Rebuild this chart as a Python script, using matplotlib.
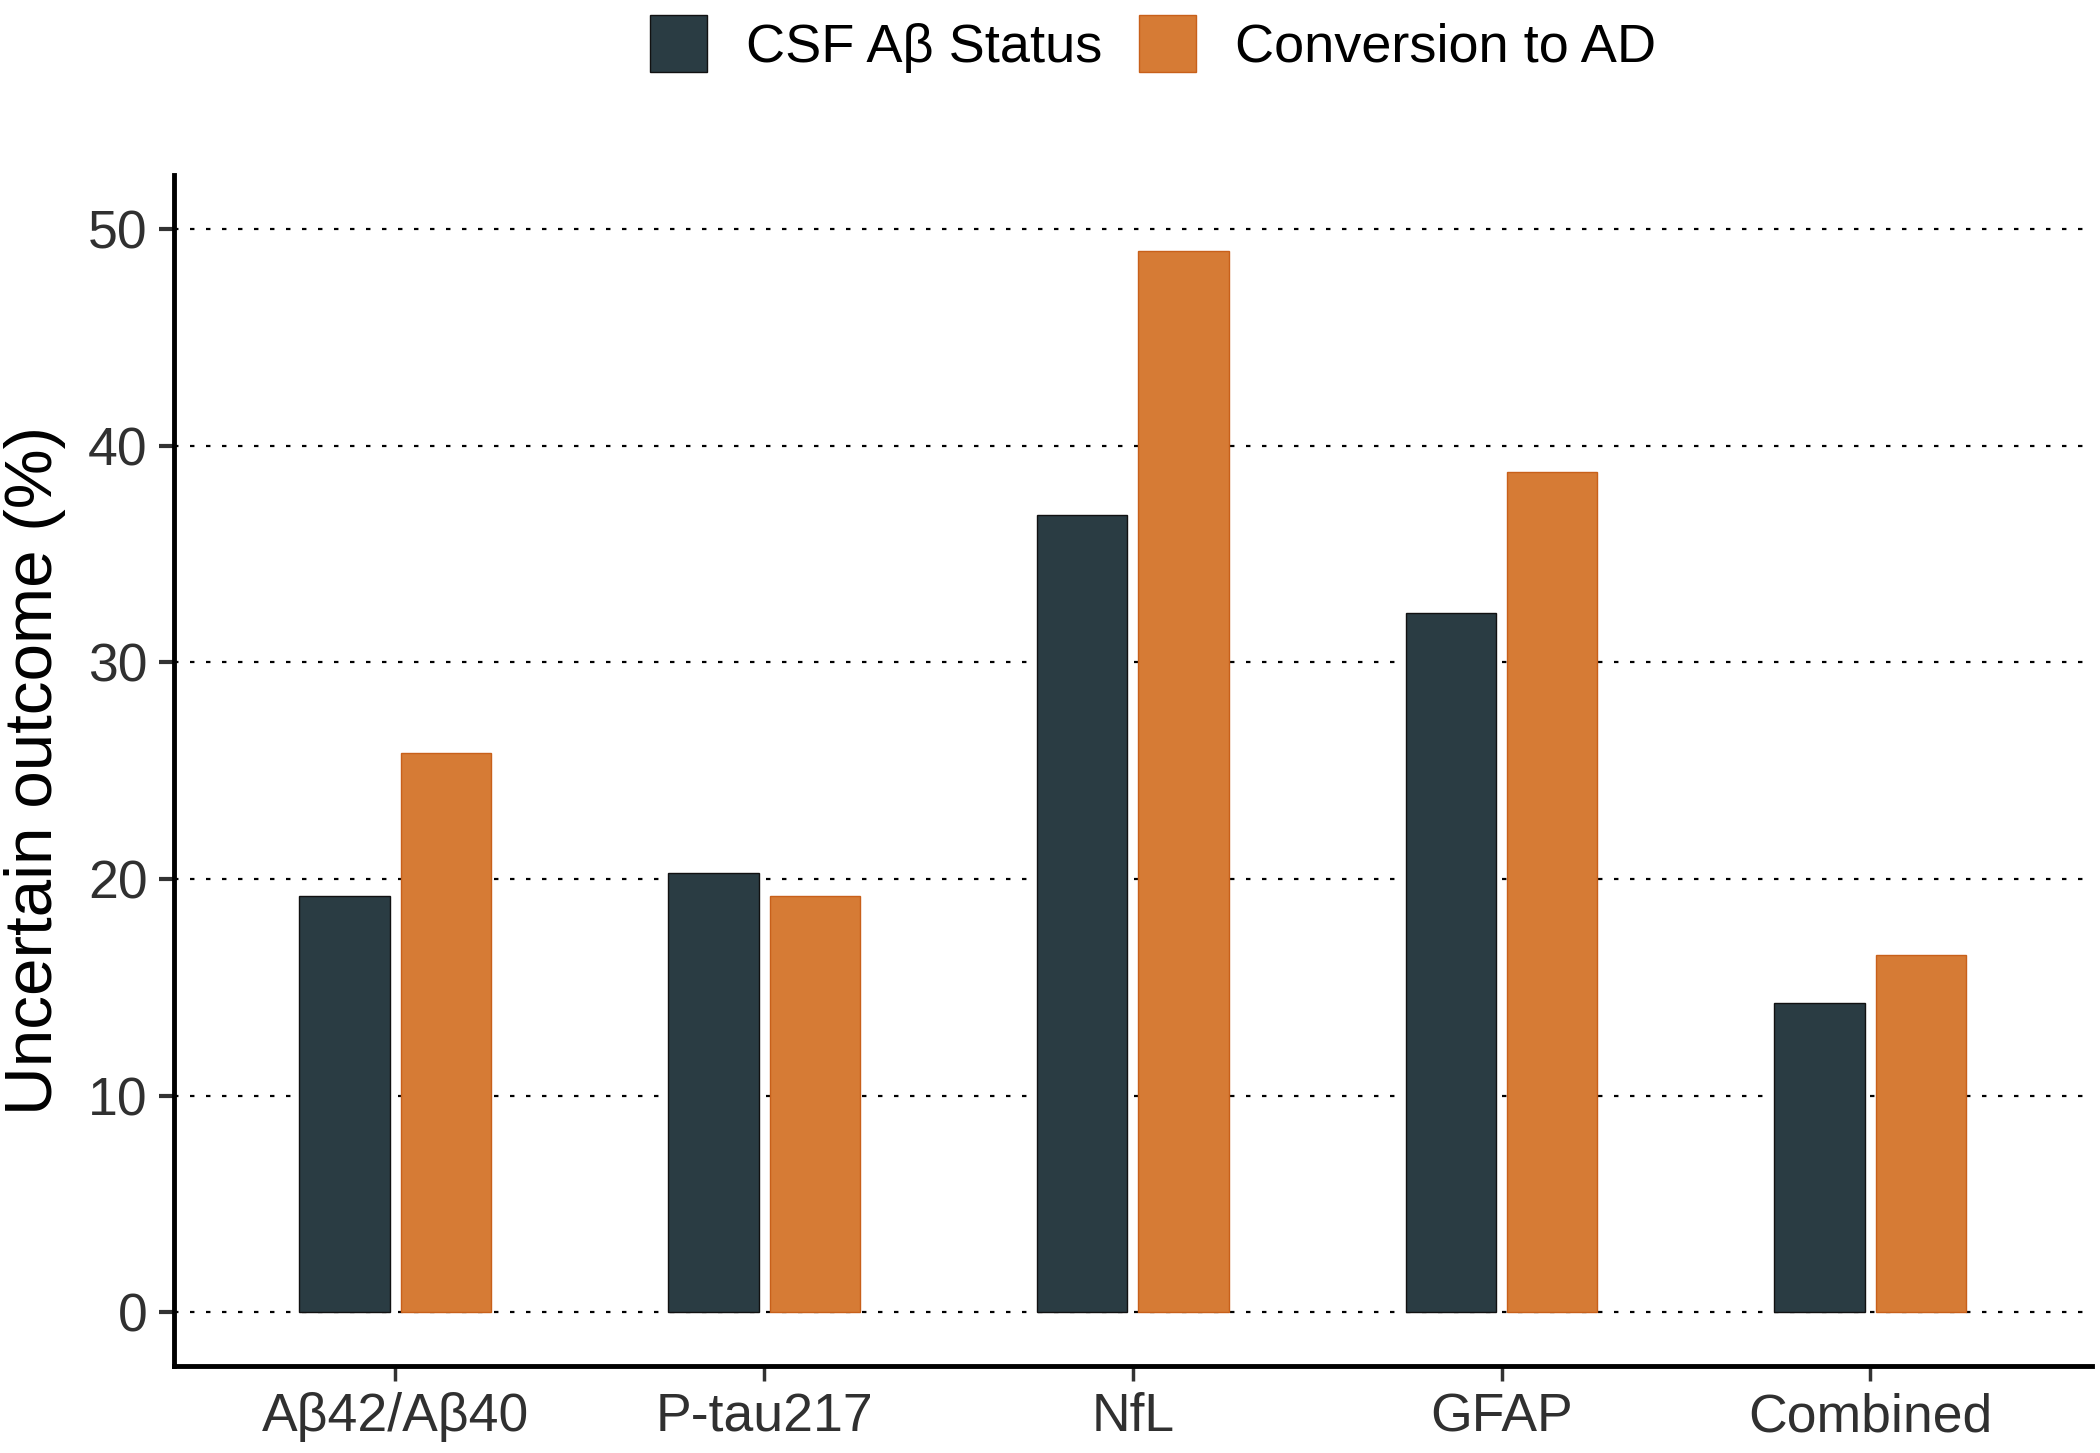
import matplotlib
matplotlib.use("Agg")
import matplotlib.pyplot as plt
from matplotlib.patches import Patch
import numpy as np

categories = ["Aβ42/Aβ40", "P-tau217", "NfL", "GFAP", "Combined"]
csf_status = [19.2, 20.3, 36.8, 32.3, 14.3]
conversion_ad = [25.8, 19.2, 49.0, 38.8, 16.5]
series_names = ["CSF Aβ Status", "Conversion to AD"]
yticks = [0, 10, 20, 30, 40, 50]

plt.rcParams['font.family'] = ['Liberation Sans', 'DejaVu Sans']

fig = plt.figure(figsize=(21, 14.53), dpi=100)
ax = fig.add_axes([0.0829, 0.0599, 0.9131, 0.8197])

dark = "#2a3c43"
orange = "#d67b35"
x = np.arange(1, len(categories) + 1)
w = 0.245
off = 0.1375
ax.bar(x - off, csf_status, width=w, color=dark, edgecolor="#111111", linewidth=1.0, zorder=3)
ax.bar(x + off, conversion_ad, width=w, color=orange, edgecolor="#c8601a", linewidth=1.0, zorder=3)

for yv in yticks:
    ax.axhline(yv, color="black", linewidth=1.6, linestyle=(0, (2.0, 5.2)), zorder=1)

ax.set_xlim(0.4, 5.6)
ax.set_ylim(-2.47, 52.5)
ax.set_xticks(x)
ax.set_xticklabels(categories)
ax.set_yticks(yticks)

for s in ["top", "right"]:
    ax.spines[s].set_visible(False)
for s in ["left", "bottom"]:
    ax.spines[s].set_linewidth(3.5)
    ax.spines[s].set_color("black")

ax.tick_params(axis="y", length=11, width=3, color="#333333", labelsize=38.5, labelcolor="#303030", pad=8)
ax.tick_params(axis="x", length=11, width=2.5, color="#333333", labelsize=38.5, labelcolor="#303030", pad=8)

ax.set_ylabel("Uncertain outcome (%)", fontsize=48.5, color="black")
ax.yaxis.set_label_coords(-0.0566, 0.5)

handles = [Patch(facecolor=dark, edgecolor="#111111"), Patch(facecolor=orange, edgecolor="#c8601a")]
fig.legend(handles, series_names, loc="center", bbox_to_anchor=(0.549, 0.970), ncol=2,
           frameon=False, fontsize=39, handlelength=1.05, handleheight=1.25,
           handletextpad=0.72, columnspacing=0.68)

fig.savefig("out.png", dpi=100, facecolor="white")
